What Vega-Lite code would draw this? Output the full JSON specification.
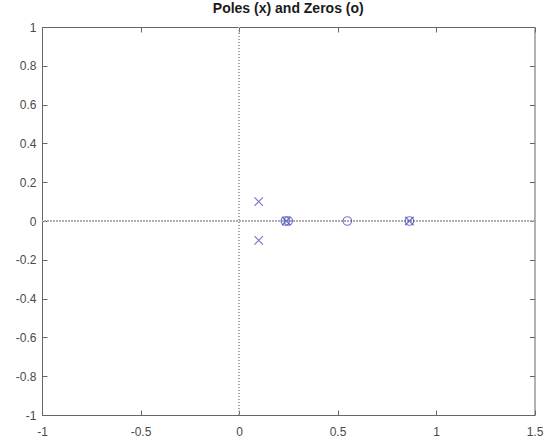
{
  "$schema": "https://vega.github.io/schema/vega-lite/v6.json",
  "width": 492.5,
  "height": 388,
  "autosize": {"type": "none"},
  "padding": {"left": 42, "top": 27, "right": 21.5, "bottom": 29},
  "background": "white",
  "config": {
    "font": "Liberation Sans",
    "view": {"stroke": "#666666", "strokeWidth": 1},
    "axis": {
      "grid": false,
      "domainColor": "#666666",
      "tickColor": "#666666",
      "labelColor": "#4a4a4a",
      "labelFont": "Liberation Sans",
      "labelFontSize": 12,
      "tickSize": -5,
      "title": null
    }
  },
  "title": {
    "text": "Poles (x) and Zeros (o)",
    "fontSize": 14,
    "fontWeight": "bold",
    "font": "Liberation Sans",
    "color": "#1a1a1a",
    "offset": 5
  },
  "data": {
    "values": [
      {"re": 0.1, "im": 0.1, "type": "pole"},
      {"re": 0.1, "im": -0.1, "type": "pole"},
      {"re": 0.24, "im": 0.0, "type": "pole"},
      {"re": 0.865, "im": 0.0, "type": "pole"},
      {"re": 0.235, "im": 0.0, "type": "zero"},
      {"re": 0.25, "im": 0.0, "type": "zero"},
      {"re": 0.55, "im": 0.0, "type": "zero"},
      {"re": 0.865, "im": 0.0, "type": "zero"}
    ]
  },
  "layer": [
    {
      "mark": {"type": "rule", "color": "#a6a6a6", "strokeDash": [1, 2], "strokeWidth": 1},
      "encoding": {
        "x": {
          "datum": 0,
          "type": "quantitative",
          "scale": {"domain": [-1, 1.5], "nice": false, "zero": false},
          "axis": {"orient": "top", "labels": false, "values": [-1, -0.5, 0, 0.5, 1, 1.5], "domain": false}
        }
      }
    },
    {
      "mark": {"type": "rule", "color": "#a6a6a6", "strokeDash": [1, 2], "strokeWidth": 1},
      "encoding": {
        "y": {
          "datum": 0,
          "type": "quantitative",
          "scale": {"domain": [-1, 1], "nice": false, "zero": false},
          "axis": {"orient": "right", "labels": false, "values": [-1, -0.8, -0.6, -0.4, -0.2, 0, 0.2, 0.4, 0.6, 0.8, 1], "domain": false}
        }
      }
    },
    {
      "mark": {"type": "point", "filled": false, "strokeWidth": 1.2, "color": "#4040bb"},
      "encoding": {
        "x": {
          "field": "re",
          "type": "quantitative",
          "scale": {"domain": [-1, 1.5], "nice": false, "zero": false},
          "axis": {"orient": "bottom", "values": [-1, -0.5, 0, 0.5, 1, 1.5], "labelExpr": "toString(datum.value)", "labelPadding": 16, "labelFlush": false}
        },
        "y": {
          "field": "im",
          "type": "quantitative",
          "scale": {"domain": [-1, 1], "nice": false, "zero": false},
          "axis": {"orient": "left", "values": [-1, -0.8, -0.6, -0.4, -0.2, 0, 0.2, 0.4, 0.6, 0.8, 1], "labelExpr": "toString(datum.value)", "labelPadding": 11, "labelFlush": false}
        },
        "shape": {
          "field": "type",
          "type": "nominal",
          "scale": {"domain": ["pole", "zero"], "range": ["M-1,-1L1,1M-1,1L1,-1", "circle"]},
          "legend": null
        },
        "size": {"value": 72}
      }
    }
  ],
  "resolve": {"axis": {"x": "independent", "y": "independent"}}
}
